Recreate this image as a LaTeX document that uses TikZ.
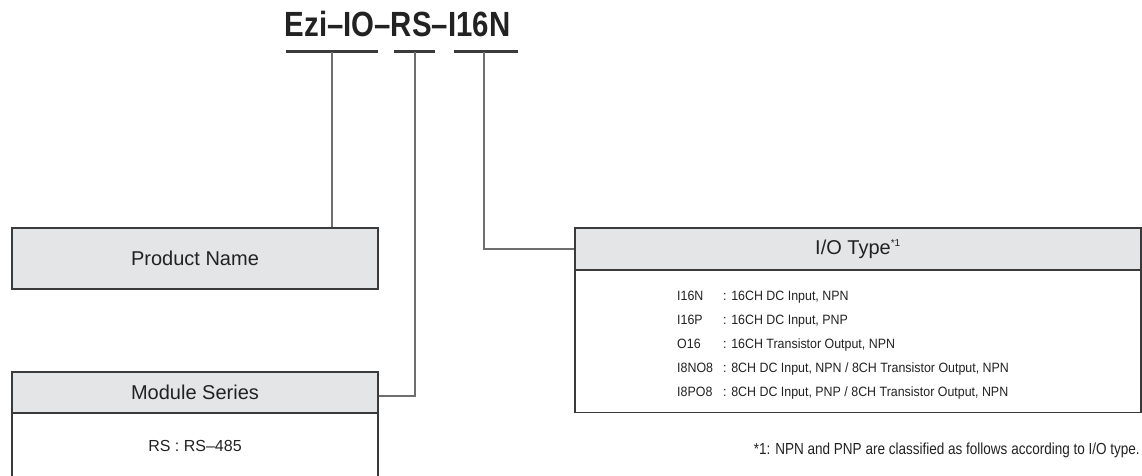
\documentclass[tikz,border=0pt]{standalone}
\usepackage{fontspec}
\setmainfont{Liberation Sans}
\definecolor{hdrfill}{HTML}{E4E5E7}
\definecolor{bordc}{HTML}{3A3A3A}
\definecolor{connc}{HTML}{6E6E6E}
\definecolor{txt}{HTML}{222222}
\newcommand{\nrw}[1]{\scalebox{0.92}[1]{#1}}
\begin{document}
\begin{tikzpicture}[x=1pt,y=-1pt,
  hdr/.style={draw=bordc, line width=1.2pt, fill=hdrfill, inner sep=0pt, text=txt, font=\fontsize{20}{24}\selectfont},
  bodybox/.style={draw=bordc, line width=1.2pt, fill=white, inner sep=0pt},
  uline/.style={draw=bordc, line width=3pt},
  conn/.style={draw=connc, line width=1.3pt},
  item/.style={anchor=base west, inner sep=0pt, text=txt, font=\fontsize{13.5}{16}\selectfont},
]
\useasboundingbox (0,0) rectangle (1142,476);

% title
\node[anchor=base, inner sep=0pt, text=txt, font=\bfseries\fontsize{35}{40}\selectfont] (title) at (397.5,37) {\scalebox{0.84}[1]{Ezi–IO–RS–I16N}};

% underline coordinates
\coordinate (u1l) at (286,52); \coordinate (u1r) at (378,52); \coordinate (u1) at (332,52);
\coordinate (u2l) at (394,52); \coordinate (u2r) at (435,52); \coordinate (u2) at (415,52);
\coordinate (u3l) at (454,52); \coordinate (u3r) at (518,52); \coordinate (u3) at (484,52);
\draw[uline] (u1l) -- (u1r);
\draw[uline] (u2l) -- (u2r);
\draw[uline] (u3l) -- (u3r);

% boxes
\node[hdr, minimum width=366pt, minimum height=61pt] (pn) at (195,258.5) {Product Name};
\node[bodybox, minimum width=366pt, minimum height=90pt, anchor=north] (msb) at (195,413) {};
\node[hdr, minimum width=366pt, minimum height=41pt] (ms) at (195,392.5) {Module Series};
\node[anchor=center, inner sep=0pt, text=txt, font=\fontsize{16}{19}\selectfont] (rs) at (195,446) {RS : RS–485};

\node[bodybox, minimum width=566pt, minimum height=142pt, anchor=north] (iob) at (858,270) {};
\node[hdr, minimum width=566pt, minimum height=42pt] (io) at (858,249) {I/O Type\textsuperscript{\fontsize{10}{12}\selectfont *1}};

% connectors
\draw[conn] (u1) -- (u1 |- pn.north);
\draw[conn] (u2) |- ([yshift=-3.5pt]ms.east);
\draw[conn] (u3) |- (io.west);

% I/O list
\node[item] (l1) at (677,300) {\nrw{I16N}};
\node[item] (d1) at (723,300) {\nrw{: 16CH DC Input, NPN}};
\node[item] (l2) at (677,324) {\nrw{I16P}};
\node[item] (d2) at (723,324) {\nrw{: 16CH DC Input, PNP}};
\node[item] (l3) at (677,348) {\nrw{O16}};
\node[item] (d3) at (723,348) {\nrw{: 16CH Transistor Output, NPN}};
\node[item] (l4) at (677,372) {\nrw{I8NO8}};
\node[item] (d4) at (723,372) {\nrw{: 8CH DC Input, NPN / 8CH Transistor Output, NPN}};
\node[item] (l5) at (677,396) {\nrw{I8PO8}};
\node[item] (d5) at (723,396) {\nrw{: 8CH DC Input, PNP / 8CH Transistor Output, NPN}};

% footnote
\node[anchor=base east, inner sep=0pt, text=txt, font=\fontsize{16}{19}\selectfont] (fn) at (1140,454) {\scalebox{0.845}[1]{*1: NPN and PNP are classified as follows according to I/O type.}};
\end{tikzpicture}
\end{document}
